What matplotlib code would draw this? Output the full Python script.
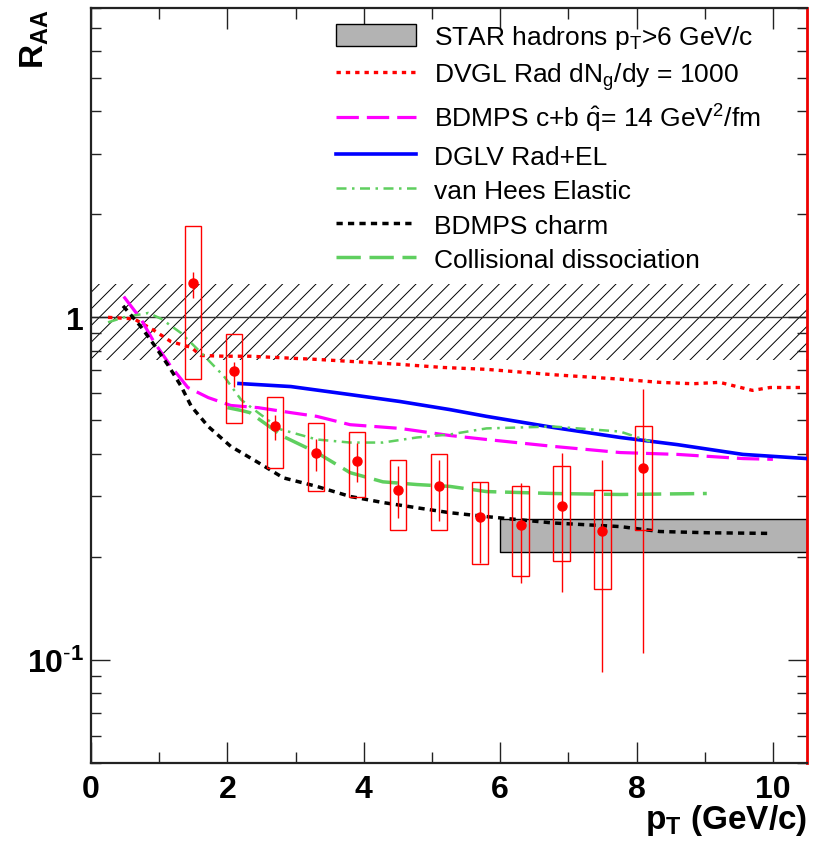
import matplotlib
matplotlib.use("Agg")
import matplotlib.pyplot as plt
import numpy as np
from matplotlib.ticker import FixedLocator, NullFormatter, LogLocator, MultipleLocator
from matplotlib.lines import Line2D
from matplotlib.patches import Patch

plt.rcParams['font.family'] = ['Liberation Sans', 'DejaVu Sans']
plt.rcParams['mathtext.fontset'] = 'custom'
plt.rcParams['mathtext.rm'] = 'Liberation Sans'
plt.rcParams['mathtext.it'] = 'Liberation Sans:italic'
plt.rcParams['mathtext.bf'] = 'Liberation Sans:bold'
plt.rcParams['hatch.linewidth'] = 0.7

# ---------------- data ----------------
pt_data = [1.5, 2.1, 2.7, 3.3, 3.9, 4.5, 5.1, 5.7, 6.3, 6.9, 7.5, 8.1]
raa_data = [1.26, 0.695, 0.483, 0.403, 0.382, 0.314, 0.321, 0.262, 0.248, 0.282, 0.238, 0.364]
stat_hi = [1.36, 0.743, 0.517, 0.44, 0.431, 0.367, 0.384, 0.331, 0.329, 0.403, 0.384, 0.616]
stat_lo = [1.14, 0.628, 0.437, 0.357, 0.33, 0.26, 0.255, 0.192, 0.168, 0.158, 0.0923, 0.105]
sys_hi = [1.85, 0.892, 0.587, 0.49, 0.464, 0.384, 0.40, 0.331, 0.321, 0.367, 0.314, 0.483]
sys_lo = [0.66, 0.493, 0.364, 0.312, 0.298, 0.24, 0.24, 0.19, 0.176, 0.195, 0.161, 0.24]

norm_band = [0.75, 1.25]
star_pt = [6.0, 10.5]
star_band = [0.207, 0.258]

dvgl_x = [0.25, 0.63, 0.91, 1.17, 1.47, 1.61, 1.95, 2.33, 2.93, 3.3, 4.53, 5.16, 5.8, 6.78, 7.76, 8.34, 8.83, 9.22, 9.7, 9.96, 10.44]
dvgl_y = [1.0, 0.99, 0.92, 0.85, 0.817, 0.774, 0.77, 0.77, 0.76, 0.754, 0.729, 0.714, 0.705, 0.68, 0.66, 0.646, 0.64, 0.646, 0.612, 0.624, 0.624]

bdmps_cb_x = [0.48, 0.73, 0.92, 1.17, 1.42, 1.72, 2.05, 2.45, 2.93, 3.31, 3.8, 4.53, 5.26, 5.8, 6.78, 7.76, 8.6, 9.56, 10.0]
bdmps_cb_y = [1.15, 0.99, 0.85, 0.72, 0.624, 0.583, 0.553, 0.545, 0.527, 0.514, 0.486, 0.474, 0.452, 0.44, 0.42, 0.403, 0.398, 0.387, 0.385]

dglv_x = [2.17, 2.93, 3.8, 4.53, 5.26, 5.8, 6.78, 7.76, 8.6, 9.56, 10.5]
dglv_y = [0.641, 0.628, 0.595, 0.568, 0.538, 0.514, 0.477, 0.446, 0.425, 0.398, 0.387]

vanhees_x = [0.25, 0.48, 0.84, 1.03, 1.32, 1.61, 1.95, 2.2, 2.45, 2.78, 3.31, 3.8, 4.28, 4.78, 5.26, 5.8, 6.78, 7.76, 8.2]
vanhees_y = [0.967, 1.0, 1.03, 0.99, 0.90, 0.79, 0.673, 0.575, 0.527, 0.471, 0.44, 0.431, 0.431, 0.446, 0.455, 0.474, 0.48, 0.464, 0.434]

charm_x = [0.47, 0.73, 0.92, 1.14, 1.32, 1.47, 1.72, 2.05, 2.45, 2.82, 3.31, 3.8, 4.28, 4.78, 5.26, 5.8, 6.78, 7.76, 8.34, 9.07, 9.98]
charm_y = [1.08, 0.94, 0.834, 0.72, 0.63, 0.55, 0.48, 0.42, 0.377, 0.34, 0.321, 0.30, 0.288, 0.278, 0.269, 0.262, 0.251, 0.245, 0.237, 0.235, 0.234]

coll_x = [2.0, 2.2, 2.33, 2.82, 3.31, 3.8, 4.28, 4.78, 5.26, 5.8, 6.78, 7.76, 9.03]
coll_y = [0.545, 0.535, 0.527, 0.449, 0.403, 0.352, 0.331, 0.325, 0.321, 0.31, 0.306, 0.304, 0.306]

labels = [
    r"STAR hadrons p$_{\mathrm{T}}$>6 GeV/c",
    r"DVGL Rad dN$_{\mathrm{g}}$/dy = 1000",
    r"BDMPS c+b $\hat{\mathrm{q}}$= 14 GeV$^{2}$/fm",
    "DGLV Rad+EL",
    "van Hees Elastic",
    "BDMPS charm",
    "Collisional dissociation",
]

# ---------------- figure ----------------
fig = plt.figure(figsize=(8.17, 8.45), dpi=100)
ax = fig.add_axes([91/817, 81/845, 716/817, 755/845])
ax.set_xlim(0, 10.5)
ax.set_yscale('log')
ax.set_ylim(0.05, 8.0)

xmin, xmax = ax.get_xlim()
# normalization band
ax.fill_between([xmin, xmax], norm_band[0], norm_band[1], facecolor='none',
                edgecolor='black', hatch='//', linewidth=0, zorder=1)
ax.axhline(1.0, color='#333333', lw=1.0, zorder=1.5)

# STAR hadrons box
ax.fill_between(star_pt, star_band[0], star_band[1], facecolor='#b3b3b3',
                edgecolor='black', linewidth=1.0, zorder=2)

red = '#ff0000'
green = '#5fcf5f'
ax.plot(dvgl_x, dvgl_y, color=red, lw=2.4, dashes=(1.3, 1.5), zorder=3)
ax.plot(bdmps_cb_x, bdmps_cb_y, color='#ff00ff', lw=2.3, dashes=(7, 2.5), zorder=3)
ax.plot(dglv_x, dglv_y, color='#0000ff', lw=2.6, zorder=3)
ax.plot(vanhees_x, vanhees_y, color=green, lw=1.8, dashes=(4, 2.2, 1, 2.2), zorder=3)
ax.plot(charm_x, charm_y, color='black', lw=2.5, dashes=(1.8, 1.5), zorder=3)
ax.plot(coll_x, coll_y, color=green, lw=2.5, dashes=(7, 2.5), zorder=3)

# systematic boxes
sys_h = [h - l for h, l in zip(sys_hi, sys_lo)]
ax.bar(pt_data, sys_h, bottom=sys_lo, width=0.24, fill=False, edgecolor=red,
       linewidth=1.0, zorder=4)
# data with stat errors
yerr = [[r - l for r, l in zip(raa_data, stat_lo)], [h - r for h, r in zip(stat_hi, raa_data)]]
ax.errorbar(pt_data, raa_data, yerr=yerr, fmt='o', color=red, ms=6.5, elinewidth=1.0,
            capsize=0, zorder=5)

# legend
handles = [Patch(facecolor='#b3b3b3', edgecolor='black', linewidth=1.0),
           Line2D([], [], color=red, lw=2.4, dashes=(1.3, 1.5)),
           Line2D([], [], color='#ff00ff', lw=2.3, dashes=(7, 2.5)),
           Line2D([], [], color='#0000ff', lw=2.6),
           Line2D([], [], color=green, lw=1.8, dashes=(4, 2.2, 1, 2.2)),
           Line2D([], [], color='black', lw=2.5, dashes=(1.8, 1.5)),
           Line2D([], [], color=green, lw=2.5, dashes=(7, 2.5))]
ax.legend(handles, labels, loc='upper left', bbox_to_anchor=(0.342, 0.980),
          frameon=False, fontsize=19, handlelength=3.05, handleheight=0.9,
          handletextpad=0.65, labelspacing=0.36, borderpad=0, borderaxespad=0)

# ticks
ax.xaxis.set_major_locator(MultipleLocator(2))
ax.xaxis.set_minor_locator(MultipleLocator(1))
ax.yaxis.set_major_locator(FixedLocator([0.1, 1.0]))
ax.yaxis.set_minor_locator(LogLocator(base=10, subs=np.arange(2, 10)))
ax.yaxis.set_minor_formatter(NullFormatter())
ax.set_yticklabels([r"$\mathbf{10^{\text{-}1}}$", "1"])
ax.tick_params(which='both', direction='in', top=True, right=True, width=1.0, color='#222222')
ax.tick_params(axis='x', which='major', length=15, pad=8)
ax.tick_params(axis='x', which='minor', length=8)
ax.tick_params(axis='y', which='major', length=14, pad=5)
ax.tick_params(axis='y', which='minor', length=7)
for lab in ax.get_xticklabels() + ax.get_yticklabels():
    lab.set_fontsize(23)
    lab.set_fontweight('bold')

for s in ['left', 'bottom', 'top']:
    ax.spines[s].set_linewidth(1.6)
    ax.spines[s].set_color('#222222')
ax.spines['right'].set_linewidth(2.0)
ax.spines['right'].set_color('#ee0000')

ax.text(-0.078, 1.0, r"$\mathbf{R_{AA}}$", transform=ax.transAxes, rotation=90,
        ha='center', va='top', fontsize=24)
ax.text(1.0, -0.052, r"$\mathbf{p_{T}}$ (GeV/c)", transform=ax.transAxes,
        ha='right', va='top', fontsize=24, fontweight='bold')

fig.savefig('out.png', dpi=100)
